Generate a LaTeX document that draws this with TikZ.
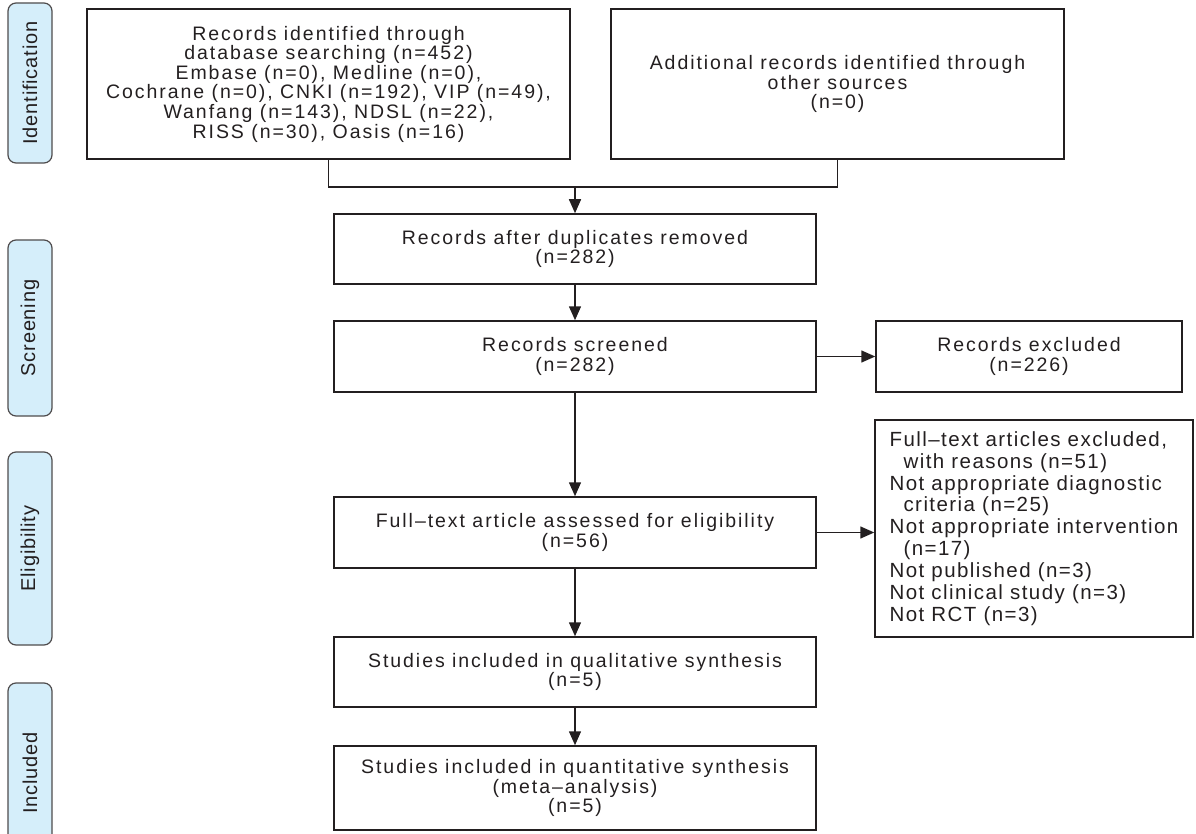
\documentclass[tikz,border=0pt]{standalone}
\usepackage{fontspec}
\setmainfont{Liberation Sans}
\newfontfamily\boxfont{Liberation Sans}[LetterSpace=10]
\newfontfamily\exfont{Liberation Sans}[LetterSpace=7]
\newfontfamily\stagefont{Liberation Sans}[LetterSpace=4]
\usetikzlibrary{arrows.meta}
\definecolor{ink}{HTML}{231F20}
\definecolor{lblue}{HTML}{D5EEFA}
\begin{document}
\begin{tikzpicture}[x=1pt,y=-1pt,
  box/.style={draw=ink, line width=1.5pt, text=ink, align=center, inner sep=0pt,
    font=\boxfont\fontsize{19.5}{19.6}\selectfont},
  exbox/.style={draw=ink, line width=1.5pt, text=ink, align=left, inner sep=0pt,
    font=\exfont\fontsize{20.5}{21.9}\selectfont},
  stage/.style={draw=ink!80, line width=1.2pt, fill=lblue, rounded corners=8pt,
    rotate=90, inner sep=0pt, minimum height=44pt, text=ink,
    font=\stagefont\fontsize{20}{22}\selectfont},
  conn/.style={draw=ink, line width=1.5pt},
  arr/.style={draw=ink, line width=1.5pt, -{Triangle[length=14pt,width=12pt]}}
]
\useasboundingbox (0,0) rectangle (1196,834);
% stage labels
\node[stage, minimum width=160pt] (sid) at (30,83) {Identification};
\node[stage, minimum width=176pt] (ssc) at (30,328) {Screening};
\node[stage, minimum width=193pt] (sel) at (30,548.5) {Eligibility};
\node[stage, minimum width=180pt] (sin) at (30,773) {Included};
% boxes
\node[box, minimum width=483pt, minimum height=150pt] (id1) at (328.5,84)
  {Records identified through\\database searching (n=452)\\Embase (n=0), Medline (n=0),\\Cochrane (n=0), CNKI (n=192), VIP (n=49),\\Wanfang (n=143), NDSL (n=22),\\RISS (n=30), Oasis (n=16)};
\node[box, minimum width=453pt, minimum height=150pt] (id2) at (837.5,84)
  {Additional records identified through\\other sources\\(n=0)};
\node[box, minimum width=482pt, minimum height=70pt] (dup) at (575,249)
  {Records after duplicates removed\\(n=282)};
\node[box, minimum width=482pt, minimum height=71pt] (scr) at (575,356.5)
  {Records screened\\(n=282)};
\node[box, minimum width=306pt, minimum height=71pt] (exc) at (1029,356.5)
  {Records excluded\\(n=226)};
\node[box, minimum width=482pt, minimum height=71pt] (full) at (575,532.5)
  {Full–text article assessed for eligibility\\(n=56)};
\node[exbox, minimum width=318pt, minimum height=217pt] (fexc) at (1034,528.5)
  {Full–text articles excluded,\\
   \hspace*{14pt}with reasons (n=51)\\
   Not appropriate diagnostic\\
   \hspace*{14pt}criteria (n=25)\\
   Not appropriate intervention\\
   \hspace*{14pt}(n=17)\\
   Not published (n=3)\\
   Not clinical study (n=3)\\
   Not RCT (n=3)};
\node[box, minimum width=482pt, minimum height=70pt] (qual) at (575,672)
  {Studies included in qualitative synthesis\\(n=5)};
\node[box, minimum width=482pt, minimum height=84pt] (quant) at (575,788)
  {Studies included in quantitative synthesis\\(meta–analysis)\\(n=5)};
% connectors
\coordinate (j) at (575,187);
\draw[conn] (id1.south) -- (id1.south |- j) -- (id2.south |- j) -- (id2.south);
\draw[arr] (j) -- (dup.north);
\draw[arr] (dup.south) -- (scr.north);
\draw[arr] (scr.east) -- (exc.west);
\draw[arr] (scr.south) -- (full.north);
\draw[arr] (full.east) -- (full.east -| fexc.west);
\draw[arr] (full.south) -- (qual.north);
\draw[arr] (qual.south) -- (quant.north);
\end{tikzpicture}
\end{document}
